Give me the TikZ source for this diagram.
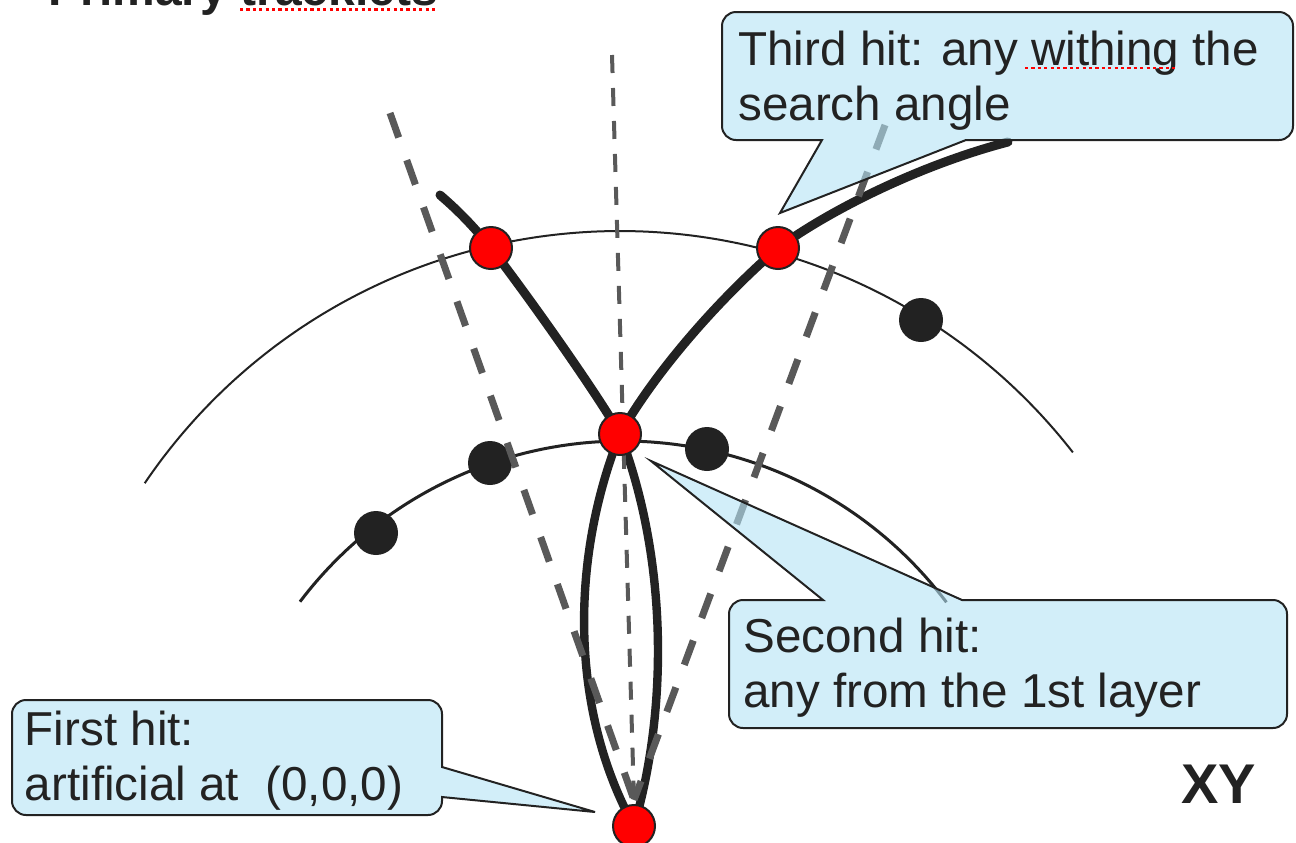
\documentclass[tikz,border=0pt]{standalone}
\usepackage{fontspec}
\setmainfont{Liberation Sans}[Ligatures=NoCommon]
\definecolor{ink}{RGB}{34,34,34}
\definecolor{dashgray}{RGB}{89,89,89}
\definecolor{calloutblue}{RGB}{180,227,245}
\newcommand\cfont{\fontsize{23.8}{27.5}\selectfont}
\pgfdeclarelayer{arcs}
\pgfdeclarelayer{tracks}
\pgfdeclarelayer{front}
\pgfsetlayers{arcs,tracks,main,front}
\begin{document}
\begin{tikzpicture}[x=0.5pt,y=-0.5pt,
  layerline/.style={draw=ink},
  track/.style={draw=ink, line width=4.5pt, line cap=round},
  lensline/.style={draw=ink, line width=4.2pt},
  cutline/.style={draw=dashgray, line width=3.5pt, dash pattern=on 13pt off 12pt},
  axisline/.style={draw=dashgray, line width=2pt, dash pattern=on 9pt off 7.5pt},
  hitred/.style={circle, fill=red, draw=ink, line width=1pt, minimum size=21pt, inner sep=0pt},
  hitblack/.style={circle, fill=ink, minimum size=22pt, inner sep=0pt},
  callout/.style={fill=calloutblue, fill opacity=0.6, draw=ink, line width=1pt},
  lbl/.style={font=\cfont, text=ink, anchor=base west, inner sep=0pt},
  spell/.style={draw=red, line width=1.3pt, dash pattern=on 1.6pt off 1.6pt}
]
\useasboundingbox (0,0) rectangle (1296,842);

% black (unused) hits
\node[hitblack] (b1) at (376,533) {};
\node[hitblack] (b2) at (490,463) {};
\node[hitblack] (b3) at (707,449) {};
\node[hitblack] (b4) at (921,320) {};

% search window lines
\coordinate (vtx) at (634,800);
\coordinate (dl) at (390,113);
\coordinate (dc) at (612,55);
\coordinate (dr) at (885,125);
\draw[cutline] (dl) -- (vtx);
\draw[cutline] (dr) -- (vtx);
\draw[axisline] (dc) -- (vtx);

% red hits
\node[hitred] (o) at (634,826) {};
\node[hitred] (h2) at (620,434) {};
\node[hitred] (h3l) at (491,248) {};
\node[hitred] (h3r) at (778,248) {};

\begin{pgfonlayer}{arcs}
\draw[layerline, line width=1pt] plot[domain=214.1:322.1, samples=150] ({620+574*cos(\x)},{805+574*sin(\x)});
\draw[layerline, line width=1.5pt] plot[domain=217.1:323, samples=150] ({623+405*cos(\x)},{846+405*sin(\x)});
\end{pgfonlayer}

\begin{pgfonlayer}{tracks}
\coordinate (tl) at (440,195);
\coordinate (tr) at (1008,142);
\draw[track] (h2.center) .. controls (596,392) and (528,296) .. (h3l.center)
             .. controls (470,222) and (455,208) .. (tl);
\draw[track] (h2.center) .. controls (655,372) and (718,300) .. (h3r.center)
             .. controls (830,210) and (920,165) .. (tr);
\draw[lensline] (h2.center) .. controls (570,560) and (570,710) .. (o.center);
\draw[lensline] (h2.center) .. controls (668,560) and (668,710) .. (o.center);
\end{pgfonlayer}

\begin{pgfonlayer}{front}
% callouts
\draw[callout] (12,757) [rounded corners=7pt] -- (12,700) -- (442,700) -- (442,745)
  [sharp corners] -- (442,767) -- (595,812) -- (442,797) -- (442,799)
  [rounded corners=7pt] -- (442,815) -- (12,815) -- cycle;
\draw[callout] (729,664) [rounded corners=7pt] -- (729,600) -- (790,600)
  [sharp corners] -- (823,600) -- (651,461) -- (962,600) -- (1000,600)
  [rounded corners=7pt] -- (1287,600) -- (1287,728) -- (729,728) -- cycle;
\draw[callout] (722,76) [rounded corners=7pt] -- (722,12) -- (1293,12) -- (1293,140) -- (1000,140)
  [sharp corners] -- (966,140) -- (780,213) -- (822,140) -- (800,140)
  [rounded corners=7pt] -- (722,140) -- cycle;

\node[lbl] (t1a) at (24.5,745) {First hit:};
\node[lbl] (t1b) at (24.5,800) {artificial at\ \ (0,0,0)};
\node[lbl] (t2a) at (743,652) {Second hit:};
\node[lbl] (t2b) at (743,707) {any from the 1st layer};
\node[lbl] (t3a) at (738,65) {Third hit: any withing the};
\node[lbl] (t3b) at (738,120) {search angle};
\draw[spell] (1025,68) -- (1175,68);

\node[font=\fontsize{28}{32}\selectfont\bfseries, text=ink, anchor=base west, inner sep=0pt] (xy) at (1181,803) {XY};
\node[font=\fontsize{24}{28}\selectfont\bfseries, text=ink, anchor=base west, inner sep=0pt] (title) at (48,5) {Primary tracklets};
\draw[spell] (240,9.5) -- (437,9.5);
\end{pgfonlayer}
\end{tikzpicture}
\end{document}
